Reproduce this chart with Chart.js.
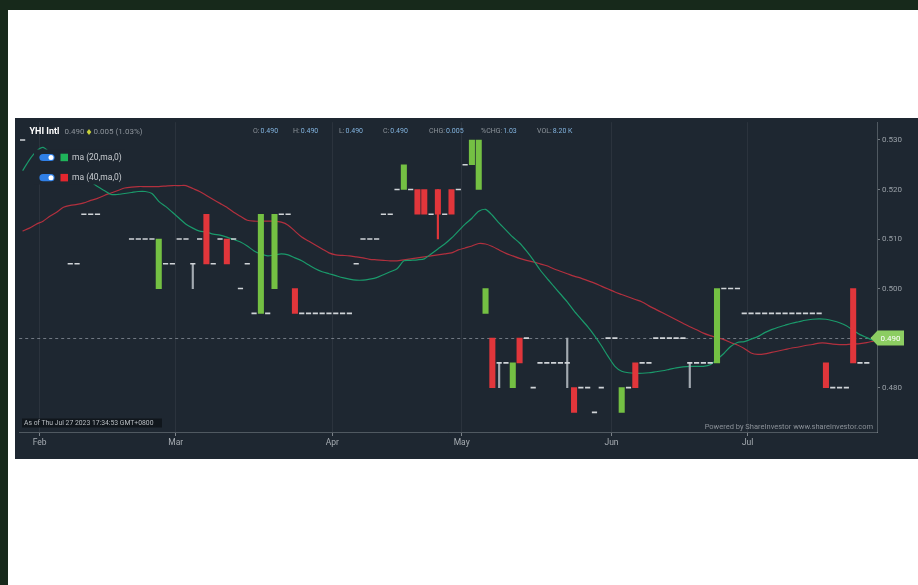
<!DOCTYPE html>
<html lang="en">
<head>
<meta charset="UTF-8">
<title>YHI Intl - Price Chart</title>
<script src="https://cdn.jsdelivr.net/npm/chart.js@4"></script>
<style>
  body {
    margin: 0;
    width: 918px;
    height: 585px;
    position: relative;
    overflow: hidden;
    background: #ffffff;
    font-family: Roboto, 'Noto Sans', sans-serif;
  }
  .topbar { position: absolute; left: 0; top: 0; width: 918px; height: 10px; background: #17291b; }
  .leftbar { position: absolute; left: 0; top: 0; width: 8px; height: 585px; background: #17291b; }
  .panel {
    position: absolute;
    left: 15px;
    top: 118px;
    width: 903px;
    height: 341px;
    background: #1e2731;
  }
  canvas { display: block; }
</style>
</head>
<body>
<div class="topbar"></div>
<div class="leftbar"></div>
<div class="panel"><canvas id="grafico" width="903" height="341"></canvas></div>

<script>
const N = null;

// trading days (SGX), 27 Jan - 27 Jul 2023
const dates = [
  '2023-01-27','2023-01-30','2023-01-31',
  '2023-02-01','2023-02-02','2023-02-03','2023-02-06','2023-02-07','2023-02-08','2023-02-09','2023-02-10','2023-02-13','2023-02-14',
  '2023-02-15','2023-02-16','2023-02-17','2023-02-20','2023-02-21','2023-02-22','2023-02-23','2023-02-24','2023-02-27','2023-02-28',
  '2023-03-01','2023-03-02','2023-03-03','2023-03-06','2023-03-07','2023-03-08','2023-03-09','2023-03-10','2023-03-13','2023-03-14',
  '2023-03-15','2023-03-16','2023-03-17','2023-03-20','2023-03-21','2023-03-22','2023-03-23','2023-03-24','2023-03-27','2023-03-28',
  '2023-03-29','2023-03-30','2023-03-31',
  '2023-04-03','2023-04-04','2023-04-05','2023-04-06','2023-04-10','2023-04-11','2023-04-12','2023-04-13','2023-04-14','2023-04-17',
  '2023-04-18','2023-04-19','2023-04-20','2023-04-21','2023-04-24','2023-04-25','2023-04-26','2023-04-27','2023-04-28',
  '2023-05-02','2023-05-03','2023-05-04','2023-05-05','2023-05-08','2023-05-09','2023-05-10','2023-05-11','2023-05-12','2023-05-15',
  '2023-05-16','2023-05-17','2023-05-18','2023-05-19','2023-05-22','2023-05-23','2023-05-24','2023-05-25','2023-05-26','2023-05-29',
  '2023-05-30','2023-05-31',
  '2023-06-01','2023-06-05','2023-06-06','2023-06-07','2023-06-08','2023-06-09','2023-06-12','2023-06-13','2023-06-14','2023-06-15',
  '2023-06-16','2023-06-19','2023-06-20','2023-06-21','2023-06-22','2023-06-23','2023-06-26','2023-06-27','2023-06-28','2023-06-30',
  '2023-07-03','2023-07-04','2023-07-05','2023-07-06','2023-07-07','2023-07-10','2023-07-11','2023-07-12','2023-07-13','2023-07-14',
  '2023-07-17','2023-07-18','2023-07-19','2023-07-20','2023-07-21','2023-07-24','2023-07-25','2023-07-26','2023-07-27'
];

const open = [
  .530, N, N,
  N, N, N, N, .505, .505, .515, .515, .515, N, N, N, N, .510, .510, .510, .510, .500, .505, .505,
  .510, .510, .505, .510, .515, .505, .510, .510, .510, .500, .505, .495, .495, .495, .500, .515, .515, .500, .495, .495, .495, .495, .495,
  .495, .495, .495, .505, .510, .510, .510, .515, .515, .520, .520, .520, .520, .520, .515, .520, .515, .520, .520,
  .525, .525, .520, .495, .490, .485, .485, .480, .490, .490, .480, .485, .485, .485, .485, .485, .480, .480, .480, .475, .480, .490,
  .490, .475, .480, .485, .485, .485, .490, .490, .490, .490, .490, .485, .485, .485, .485, .485, .500, .500, .500, .495,
  .495, .495, .495, .495, .495, .495, .495, .495, .495, .495, .495, .485, .480, .480, .480, .500, .485, .485, .490
];
const high = [
  .530, N, N,
  N, N, N, N, .505, .505, .515, .515, .515, N, N, N, N, .510, .510, .510, .510, .510, .505, .505,
  .510, .510, .505, .510, .515, .505, .510, .510, .510, .500, .505, .495, .515, .495, .515, .515, .515, .500, .495, .495, .495, .495, .495,
  .495, .495, .495, .505, .510, .510, .510, .515, .515, .520, .525, .520, .520, .520, .515, .520, .515, .520, .520,
  .525, .530, .530, .500, .490, .485, .485, .485, .490, .490, .480, .485, .485, .485, .485, .490, .480, .480, .480, .475, .480, .490,
  .490, .480, .480, .485, .485, .485, .490, .490, .490, .490, .490, .485, .485, .485, .485, .500, .500, .500, .500, .495,
  .495, .495, .495, .495, .495, .495, .495, .495, .495, .495, .495, .485, .480, .480, .480, .500, .485, .485, .490
];
const low = [
  .530, N, N,
  N, N, N, N, .505, .505, .515, .515, .515, N, N, N, N, .510, .510, .510, .510, .500, .505, .505,
  .510, .510, .500, .510, .505, .505, .510, .505, .510, .500, .505, .495, .495, .495, .500, .515, .515, .495, .495, .495, .495, .495, .495,
  .495, .495, .495, .505, .510, .510, .510, .515, .515, .520, .520, .520, .515, .515, .515, .510, .515, .515, .520,
  .525, .525, .520, .495, .480, .480, .485, .480, .485, .490, .480, .485, .485, .485, .485, .480, .475, .480, .480, .475, .480, .490,
  .490, .475, .480, .480, .485, .485, .490, .490, .490, .490, .490, .480, .485, .485, .485, .485, .500, .500, .500, .495,
  .495, .495, .495, .495, .495, .495, .495, .495, .495, .495, .495, .480, .480, .480, .480, .485, .485, .485, .490
];
const close = [
  .530, N, N,
  N, N, N, N, .505, .505, .515, .515, .515, N, N, N, N, .510, .510, .510, .510, .510, .505, .505,
  .510, .510, .505, .510, .505, .505, .510, .505, .510, .500, .505, .495, .515, .495, .515, .515, .515, .495, .495, .495, .495, .495, .495,
  .495, .495, .495, .505, .510, .510, .510, .515, .515, .520, .525, .520, .515, .515, .515, .515, .515, .515, .520,
  .525, .530, .530, .500, .480, .485, .485, .485, .485, .490, .480, .485, .485, .485, .485, .485, .475, .480, .480, .475, .480, .490,
  .490, .480, .480, .480, .485, .485, .490, .490, .490, .490, .490, .485, .485, .485, .485, .500, .500, .500, .500, .495,
  .495, .495, .495, .495, .495, .495, .495, .495, .495, .495, .495, .480, .480, .480, .480, .485, .485, .485, .490
];

// moving averages as plotted
const ma20 = [
  .5238, .5260, .5277,
  .5285, .5275, .5266, .5256, .5246, .5236, .5226, .5216, .5206, .5198, .5190, .5190, .5192, .5194, .5196, .5196, .5192, .5176, .5166, .5154,
  .5142, .5130, .5122, .5116, .5114, .5110, .5108, .5104, .5099, .5094, .5086, .5076, .5070, .5066, .5068, .5070, .5068, .5062, .5056, .5048, .5040, .5034, .5030,
  .5026, .5022, .5019, .5017, .5017, .5019, .5022, .5028, .5034, .5040, .5056, .5057, .5058, .5060, .5070, .5080, .5090, .5102, .5116,
  .5130, .5142, .5156, .5160, .5148, .5132, .5118, .5104, .5092, .5076, .5058, .5038, .5021, .5005, .4989, .4973, .4955, .4939, .4923, .4905, .4885, .4863,
  .4843, .4833, .4830, .4829, .4829, .4830, .4832, .4834, .4837, .4840, .4842, .4843, .4843, .4843, .4846, .4857, .4869, .4883, .4891, .4893,
  .4898, .4903, .4911, .4917, .4922, .4926, .4930, .4933, .4936, .4938, .4939, .4938, .4935, .4931, .4925, .4916, .4907, .4901, .4895
];
const ma40 = [
  .5116, .5122, .5130,
  .5136, .5146, .5154, .5164, .5168, .5170, .5173, .5178, .5182, .5188, .5193, .5198, .5203, .5205, .5206, .5206, .5206, .5206, .5207, .5208,
  .5208, .5208, .5202, .5196, .5188, .5180, .5172, .5164, .5154, .5146, .5138, .5136, .5136, .5136, .5136, .5134, .5128, .5116, .5104, .5096, .5088, .5080, .5072,
  .5068, .5067, .5066, .5064, .5062, .5059, .5058, .5057, .5056, .5056, .5058, .5060, .5062, .5064, .5066, .5068, .5070, .5072, .5078,
  .5082, .5086, .5091, .5090, .5085, .5078, .5071, .5066, .5061, .5057, .5054, .5050, .5046, .5040, .5035, .5030, .5025, .5021, .5016, .5011, .5005, .4999,
  .4993, .4988, .4983, .4978, .4973, .4965, .4958, .4951, .4944, .4937, .4930, .4923, .4917, .4910, .4905, .4901, .4897, .4891, .4886, .4879,
  .4870, .4867, .4868, .4871, .4874, .4877, .4880, .4882, .4885, .4887, .4890, .4890, .4888, .4887, .4887, .4888, .4889, .4891, .4894
];

const monthTickDates = ['2023-02-01', '2023-03-01', '2023-04-03', '2023-05-02', '2023-06-01', '2023-07-03'];
const monthTickLabels = ['Feb', 'Mar', 'Apr', 'May', 'Jun', 'Jul'];
const yTicks = [0.480, 0.490, 0.500, 0.510, 0.520, 0.530];

const verde = '#74c043';
const vermelho = '#e1363b';
const cinza = '#a3aab1';
const traco = '#d0d4d8';

// candle pieces
const corpos = dates.map((d, i) => (open[i] == null || open[i] === close[i]) ? null : [open[i], close[i]]);
const coresCorpo = dates.map((d, i) => close[i] > open[i] ? verde : vermelho);
const pavios = dates.map((d, i) => {
  if (open[i] == null) return null;
  const topo = Math.max(open[i], close[i]);
  const base = Math.min(open[i], close[i]);
  return (high[i] > topo || low[i] < base) ? [low[i], high[i]] : null;
});
const coresPavio = dates.map((d, i) => open[i] === close[i] ? cinza : (close[i] > open[i] ? verde : vermelho));
const dojis = dates.map((d, i) => (open[i] != null && open[i] === close[i]) ? close[i] : null);

const ultimo = close[close.length - 1];
const slot = 862 / dates.length;

function rotuloMes(i) {
  const k = monthTickDates.indexOf(dates[i]);
  return k >= 0 ? monthTickLabels[k] : '';
}

const extras = {
  id: 'extras',
  beforeDatasetsDraw(chart) {
    const { ctx, chartArea, scales } = chart;
    const y = Math.round(scales.y.getPixelForValue(ultimo)) + 0.5;
    ctx.save();
    ctx.strokeStyle = 'rgba(180,188,196,0.55)';
    ctx.lineWidth = 1;
    ctx.setLineDash([3, 3]);
    ctx.beginPath();
    ctx.moveTo(chartArea.left, y);
    ctx.lineTo(chartArea.right, y);
    ctx.stroke();
    ctx.restore();
  },
  afterDraw(chart) {
    const { ctx, scales } = chart;
    ctx.save();

    // legend box (covers lines behind it)
    ctx.fillStyle = '#1e2731';
    ctx.fillRect(19, 31.5, 91, 35);
    const itens = [['ma (20,ma,0)', '#1fb45a', 39.5], ['ma (40,ma,0)', '#e3262e', 59.7]];
    itens.forEach(([txt, cor, yy]) => {
      ctx.fillStyle = '#2f7fe6';
      ctx.beginPath();
      ctx.arc(28, yy, 3.6, Math.PI / 2, Math.PI * 1.5);
      ctx.arc(36, yy, 3.6, Math.PI * 1.5, Math.PI / 2);
      ctx.closePath();
      ctx.fill();
      ctx.fillStyle = '#ffffff';
      ctx.beginPath();
      ctx.arc(36, yy, 2.5, 0, Math.PI * 2);
      ctx.fill();
      ctx.fillStyle = cor;
      ctx.fillRect(45.5, yy - 3.8, 7.5, 7.5);
      ctx.fillStyle = '#c9cdd1';
      ctx.font = '8.5px Roboto';
      ctx.textBaseline = 'middle';
      ctx.fillText(txt, 57, yy + 0.5);
    });

    // header
    ctx.textBaseline = 'middle';
    ctx.fillStyle = '#ffffff';
    ctx.font = 'bold 9px Roboto';
    ctx.fillText('YHI Intl', 14.5, 13.5);
    ctx.fillStyle = '#8d949b';
    ctx.font = '8px Roboto';
    ctx.fillText('0.490', 49.5, 13.8);
    ctx.fillStyle = '#c8d23a';
    ctx.beginPath();
    ctx.moveTo(74, 11);
    ctx.lineTo(76.3, 14);
    ctx.lineTo(74, 17);
    ctx.lineTo(71.7, 14);
    ctx.closePath();
    ctx.fill();
    ctx.fillStyle = '#8d949b';
    ctx.fillText('0.005 (1.03%)', 78.5, 13.8);

    const ohlc = [['O:', '0.490', 238], ['H:', '0.490', 278], ['L:', '0.490', 324], ['C:', '0.490', 368],
                  ['CHG:', '0.005', 414], ['%CHG:', '1.03', 466], ['VOL:', '8.20 K', 522]];
    ctx.font = '7px Roboto';
    ohlc.forEach(([lab, val, x]) => {
      ctx.fillStyle = '#8d949b';
      ctx.fillText(lab, x, 13.3);
      ctx.fillStyle = '#82b3de';
      ctx.fillText(val, x + ctx.measureText(lab).width + 1, 13.3);
    });

    // footer notes
    ctx.fillStyle = '#10161c';
    ctx.fillRect(7, 300.5, 140, 9);
    ctx.fillStyle = '#b9bec3';
    ctx.font = '6.8px Roboto';
    ctx.fillText('As of Thu Jul 27 2023 17:34:53 GMT+0800', 9, 305.2);
    ctx.fillStyle = '#8b9198';
    ctx.font = '7.5px Roboto';
    ctx.textAlign = 'right';
    ctx.fillText('Powered by ShareInvestor www.shareinvestor.com', 858, 308.7);

    // last price tag
    const y = scales.y.getPixelForValue(ultimo);
    ctx.fillStyle = '#8ccd62';
    ctx.beginPath();
    ctx.moveTo(855.5, y);
    ctx.lineTo(862.5, y - 7.5);
    ctx.lineTo(889, y - 7.5);
    ctx.lineTo(889, y + 7.5);
    ctx.lineTo(862.5, y + 7.5);
    ctx.closePath();
    ctx.fill();
    ctx.fillStyle = '#ffffff';
    ctx.font = '8px Roboto';
    ctx.textAlign = 'center';
    ctx.fillText(ultimo.toFixed(3), 875.5, y + 0.5);
    ctx.restore();
  }
};

new Chart(document.getElementById('grafico'), {
  type: 'bar',
  data: {
    labels: dates,
    datasets: [
      {
        label: 'body',
        data: corpos,
        backgroundColor: coresCorpo,
        barThickness: 5.4,
        grouped: false,
        borderWidth: 0,
        order: 1
      },
      {
        label: 'wick',
        data: pavios,
        backgroundColor: coresPavio,
        barThickness: 1.5,
        grouped: false,
        borderWidth: 0,
        order: 2
      },
      {
        type: 'line',
        label: 'doji',
        data: dojis,
        showLine: false,
        pointStyle: 'line',
        pointRadius: 2.6,
        pointHoverRadius: 2.6,
        pointBorderWidth: 1.6,
        pointBorderColor: traco,
        pointBackgroundColor: traco,
        order: 1
      },
      {
        type: 'line',
        label: 'ma (20,ma,0)',
        data: ma20,
        borderColor: '#1a9a6b',
        borderWidth: 1.2,
        pointRadius: 0,
        tension: 0.25,
        order: 5
      },
      {
        type: 'line',
        label: 'ma (40,ma,0)',
        data: ma40,
        borderColor: '#b2303e',
        borderWidth: 1.2,
        pointRadius: 0,
        tension: 0.25,
        order: 6
      }
    ]
  },
  options: {
    responsive: false,
    animation: false,
    layout: { padding: 0 },
    plugins: {
      legend: { display: false },
      tooltip: { enabled: false }
    },
    scales: {
      x: {
        type: 'category',
        offset: true,
        afterFit: s => { s.height = 27; s.paddingLeft = 0; s.paddingRight = 0; },
        grid: {
          offset: true,
          color: c => rotuloMes(c.index) ? 'rgba(255,255,255,0.06)' : 'rgba(0,0,0,0)',
          tickColor: c => rotuloMes(c.index) ? 'rgba(200,205,210,0.55)' : 'rgba(0,0,0,0)',
          tickLength: 4
        },
        border: { display: true, color: 'rgba(200,205,210,0.3)' },
        ticks: {
          autoSkip: false,
          maxRotation: 0,
          minRotation: 0,
          labelOffset: -slot / 2,
          padding: 2,
          color: '#a6acb2',
          font: { family: 'Roboto', size: 8.5 },
          callback: (v, i) => rotuloMes(i)
        }
      },
      y: {
        position: 'right',
        min: 0.47104,
        max: 0.53359,
        afterBuildTicks: s => { s.ticks = yTicks.map(v => ({ value: v })); },
        afterFit: s => { s.width = 41; s.paddingTop = 0; s.paddingBottom = 0; },
        grid: {
          drawOnChartArea: false,
          tickLength: 3,
          tickColor: 'rgba(200,205,210,0.5)'
        },
        border: { display: true, color: 'rgba(200,205,210,0.3)' },
        ticks: {
          padding: 2,
          color: '#9aa1a8',
          font: { family: 'Roboto', size: 8 },
          callback: v => Number(v).toFixed(3)
        }
      }
    }
  },
  plugins: [extras]
});
</script>
</body>
</html>
